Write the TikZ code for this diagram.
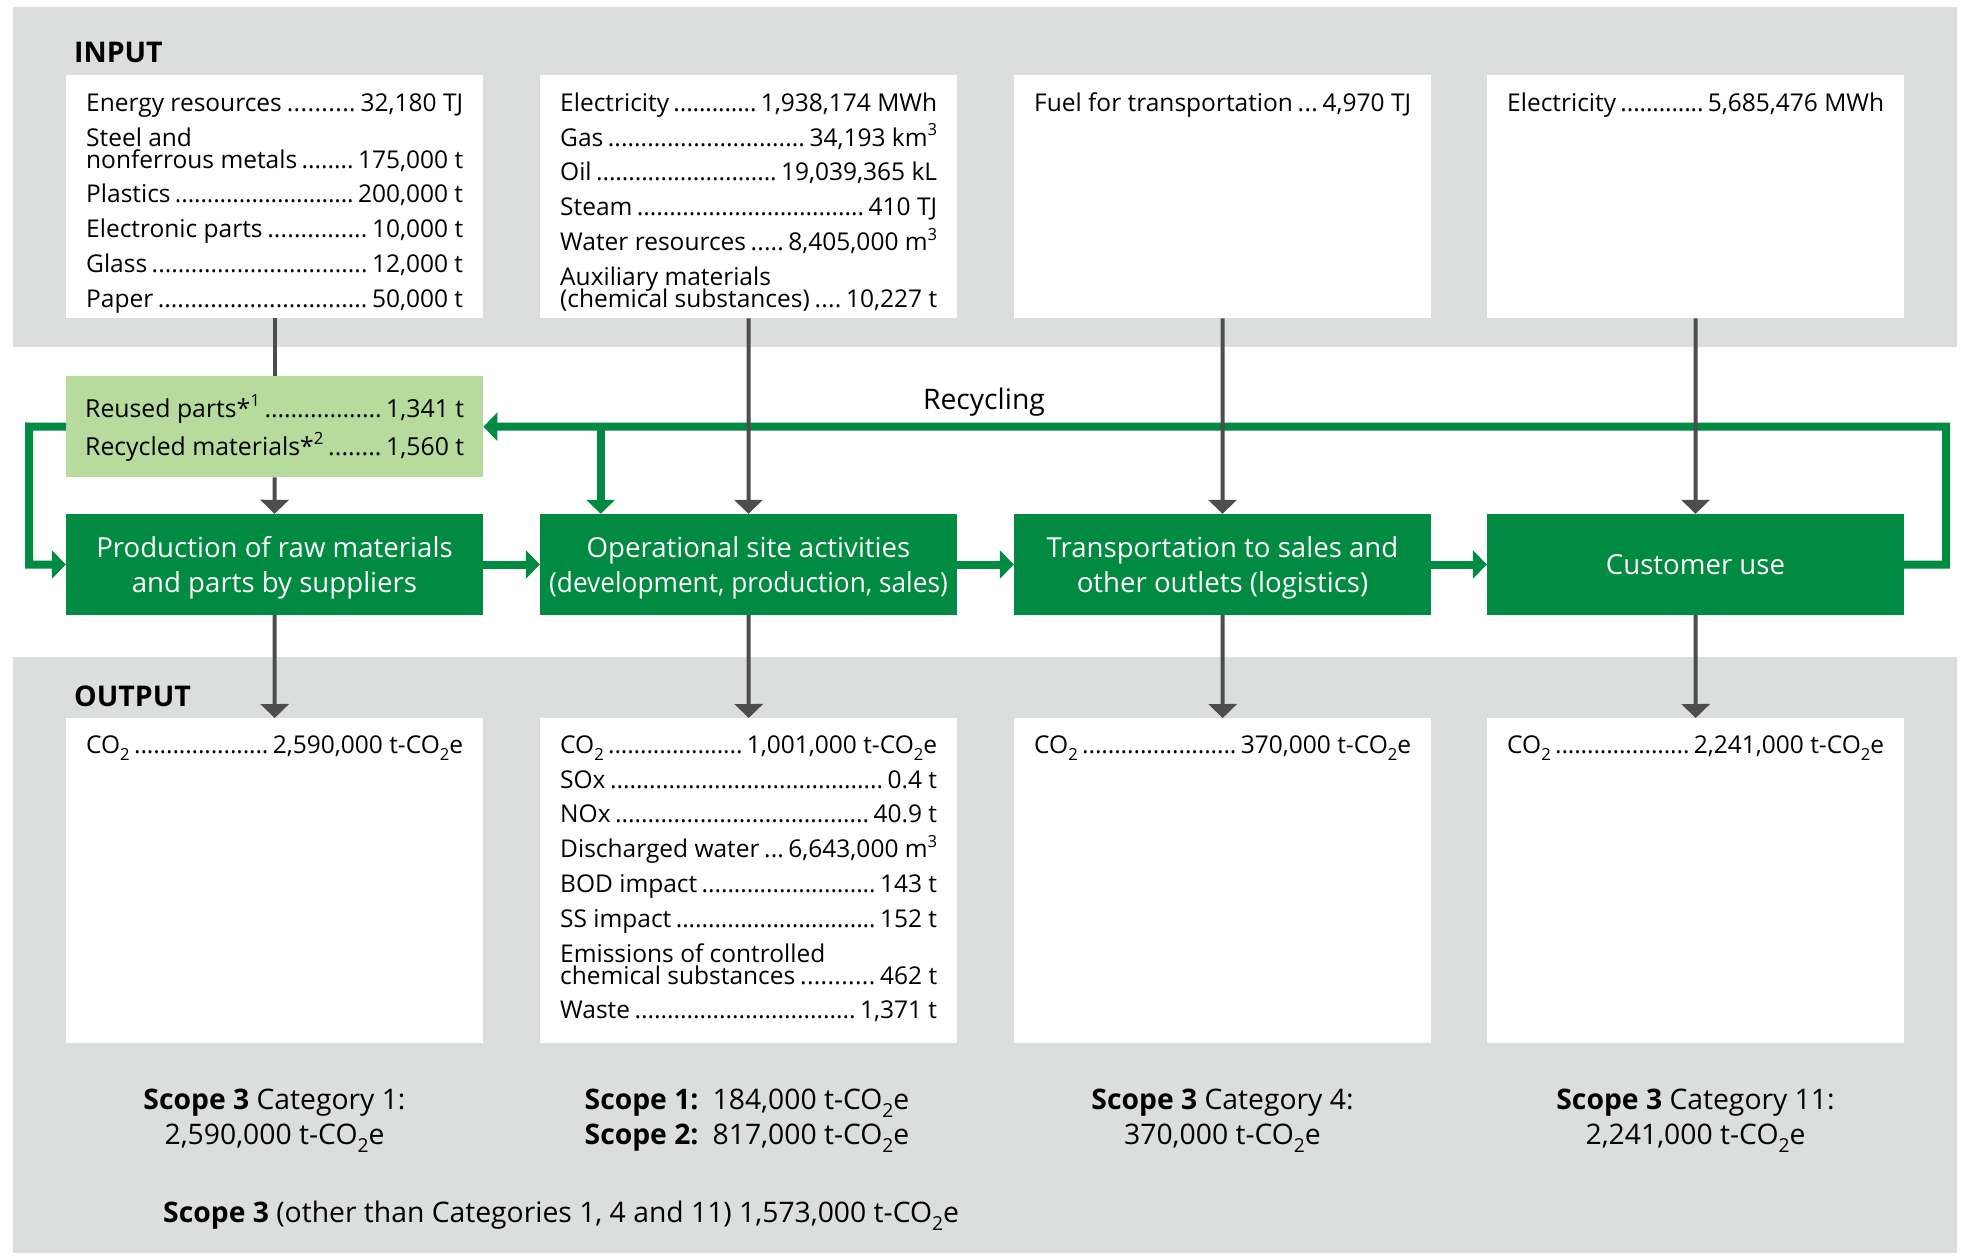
\documentclass[tikz,border=0pt]{standalone}
\usepackage{fontspec}
\setmainfont{Open Sans}
\usetikzlibrary{arrows.meta}
\definecolor{bandgray}{RGB}{220,221,221}
\definecolor{dkgreen}{RGB}{0,138,66}
\definecolor{ltgreen}{RGB}{183,218,157}
\definecolor{arrgray}{RGB}{77,77,79}
\newcommand\dfill{\xleaders\hbox to 0.26em{\hss.\hss}\hfill}
\newcommand\myline[1]{\setbox0\hbox to\hsize{#1}\ht0=0pt \dp0=0pt \box0 }
\newcommand\ent[2]{\myline{#1\hskip0.18em\dfill\hskip0.18em #2}}
\newcommand\txt[1]{\myline{#1\hfil}}
\newcommand\NL{\kern34.8pt }
\newcommand\NLt{\kern22pt }
\newcommand\boxtext[3]{\vbox to #1{\hsize=377pt \offinterlineskip\kern#2 #3\vss}}
\newcommand\sbt{\raisebox{-0.3em}{\scalebox{0.68}{2}}}
\newcommand\spt[1]{\raisebox{0.42em}{\scalebox{0.68}{#1}}}
\newcommand\cotwo{CO\sbt}
\newcommand\coe{t-CO\sbt e}
\newcommand\gstrut{\rule{0pt}{27pt}}
\tikzset{
  x=1pt, y=-1pt,
  band/.style={fill=bandgray},
  wbox/.style={anchor=north west, fill=white, inner xsep=20pt, inner ysep=0pt, font=\fontsize{24.5}{28}\selectfont},
  lbox/.style={anchor=north west, fill=ltgreen, inner xsep=19pt, inner ysep=0pt, font=\fontsize{24.8}{30}\selectfont},
  gbox/.style={fill=dkgreen, text=white, minimum width=417pt, minimum height=101pt, inner sep=0pt, align=center, font=\fontsize{27.6}{35}\selectfont},
  head/.style={anchor=base west, inner sep=0pt, font=\fontsize{28.5}{32}\selectfont\bfseries},
  scope/.style={inner sep=0pt, font=\fontsize{28.3}{35}\selectfont},
  garr/.style={draw=arrgray, line width=4pt, -{Triangle[width=28pt,length=14pt]}, arrgray},
  gline/.style={draw=arrgray, line width=4pt},
  grn/.style={draw=dkgreen, line width=8pt, line join=miter},
  grnarr/.style={grn, -{Triangle[width=28pt,length=14pt]}, dkgreen},
}
\begin{document}
\begin{tikzpicture}
\useasboundingbox (0,0) rectangle (1964,1255);
\fill[white] (0,0) rectangle (1964,1255);
\fill[band] (13,7) rectangle (1957,347);
\fill[band] (13,657) rectangle (1957,1253);

\node[head] (inlbl) at (74,63) {INPUT};
\node[head] (outlbl) at (74,706) {OUTPUT};

% input boxes
\node[wbox] (in1) at (66,75) {\boxtext{243pt}{36pt}{%
 \ent{Energy resources}{32,180 TJ}\NL
 \txt{Steel and}\NLt
 \ent{nonferrous metals}{175,000 t}\NL
 \ent{Plastics}{200,000 t}\NL
 \ent{Electronic parts}{10,000 t}\NL
 \ent{Glass}{12,000 t}\NL
 \ent{Paper}{50,000 t}}};
\node[wbox] (in2) at (540,75) {\boxtext{243pt}{36pt}{%
 \ent{Electricity}{1,938,174 MWh}\NL
 \ent{Gas}{34,193 km\spt{3}}\NL
 \ent{Oil}{19,039,365 kL}\NL
 \ent{Steam}{410 TJ}\NL
 \ent{Water resources}{8,405,000 m\spt{3}}\NL
 \txt{Auxiliary materials}\NLt
 \ent{(chemical substances)}{10,227 t}}};
\node[wbox] (in3) at (1014,75) {\boxtext{243pt}{36pt}{%
 \ent{Fuel for transportation}{4,970 TJ}}};
\node[wbox] (in4) at (1487,75) {\boxtext{243pt}{36pt}{%
 \ent{Electricity}{5,685,476 MWh}}};

% reuse box
\node[lbox] (reuse) at (66,376) {\vbox to 101pt{\hsize=379pt \offinterlineskip\kern41pt
 \ent{Reused parts*\spt{1}}{1,341 t}\kern38pt
 \ent{Recycled materials*\spt{2}}{1,560 t}\vss}};

% process boxes
\node[gbox] (prod) at (274.5,564.5) {\gstrut Production of raw materials\\and parts by suppliers};
\node[gbox] (ops) at (748.5,564.5) {\gstrut Operational site activities\\{\addfontfeatures{FakeStretch=0.95}(development, production, sales)}};
\node[gbox] (trans) at (1222.5,564.5) {\gstrut Transportation to sales and\\other outlets (logistics)};
\node[gbox] (cust) at (1695.5,564.5) {Customer use};

% output boxes
\node[wbox] (out1) at (66,718) {\boxtext{325pt}{35pt}{%
 \ent{\cotwo}{2,590,000 \coe}}};
\node[wbox] (out2) at (540,718) {\boxtext{325pt}{35pt}{%
 \ent{\cotwo}{1,001,000 \coe}\NL
 \ent{SOx}{0.4 t}\NL
 \ent{NOx}{40.9 t}\NL
 \ent{Discharged water}{6,643,000 m\spt{3}}\NL
 \ent{BOD impact}{143 t}\NL
 \ent{SS impact}{152 t}\NL
 \txt{Emissions of controlled}\NLt
 \ent{chemical substances}{462 t}\NL
 \ent{Waste}{1,371 t}}};
\node[wbox] (out3) at (1014,718) {\boxtext{325pt}{35pt}{%
 \ent{\cotwo}{370,000 \coe}}};
\node[wbox] (out4) at (1487,718) {\boxtext{325pt}{35pt}{%
 \ent{\cotwo}{2,241,000 \coe}}};

% recycling loop
\coordinate (rc) at (1946,426.5);
\coordinate (lc) at (29,426.5);
\coordinate (br) at (600.7,426.5);
\draw[grnarr] (cust.east) -| (rc) -- (reuse.east);
\draw[grnarr] (br) -- (br |- ops.north);
\draw[grnarr] (reuse.west) -- (lc) |- (prod.west);
\node[scope, anchor=base] (recyc) at (984,409) {Recycling};

% flow arrows
\draw[grnarr] (prod.east) -- (ops.west);
\draw[grnarr] (ops.east) -- (trans.west);
\draw[grnarr] (trans.east) -- (cust.west);

% grey connectors
\draw[gline] (in1.south) -- (reuse.north);
\draw[garr] (reuse.south) -- (prod.north);
\draw[garr] (in2.south) -- (ops.north);
\draw[garr] (in3.south) -- (trans.north);
\draw[garr] (in4.south) -- (cust.north);
\draw[garr] (prod.south) -- (out1.north);
\draw[garr] (ops.south) -- (out2.north);
\draw[garr] (trans.south) -- (out3.north);
\draw[garr] (cust.south) -- (out4.north);

% scope labels
\node[scope, align=center] (s1) at (274.5,1120.5) {\textbf{Scope 3} Category 1:\\2,590,000 \coe};
\node[scope, align=left] (s2) at (747,1120.5) {\textbf{Scope 1:}\enspace 184,000 \coe\\\textbf{Scope 2:}\enspace 817,000 \coe};
\node[scope, align=center] (s3) at (1222.5,1120.5) {\textbf{Scope 3} Category 4:\\370,000 \coe};
\node[scope, align=center] (s4) at (1695.5,1120.5) {\textbf{Scope 3} Category 11:\\2,241,000 \coe};
\node[scope, anchor=base west] (s5) at (163,1222) {\textbf{Scope 3} (other than Categories 1, 4 and 11) 1,573,000 \coe};
\end{tikzpicture}
\end{document}
